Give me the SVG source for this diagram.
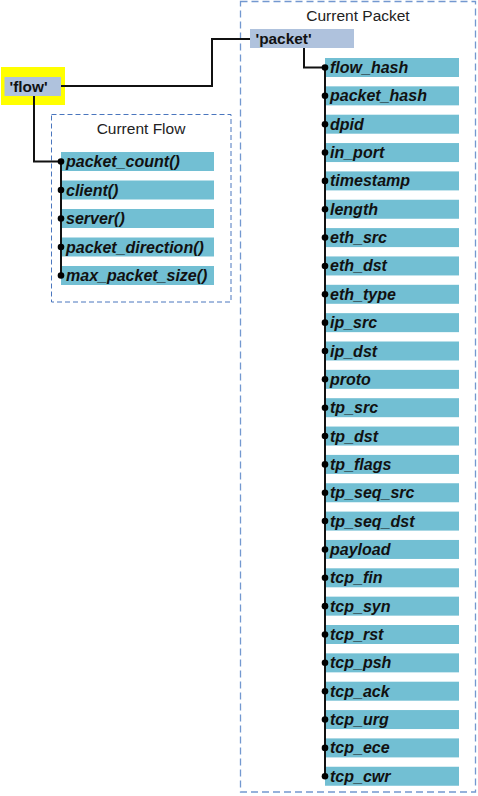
<svg xmlns="http://www.w3.org/2000/svg" width="478" height="796" viewBox="0 0 478 796">
<style>
.item{fill:#72BFD3}
.it{font-family:"Liberation Sans",Arial,sans-serif;font-size:16px;font-weight:bold;font-style:italic;fill:#111}
.key{font-family:"Liberation Sans",Arial,sans-serif;font-size:15.4px;font-weight:bold;fill:#111}
.title{font-family:"Liberation Sans",Arial,sans-serif;font-size:15.5px;fill:#222;text-anchor:middle}
.conn{fill:none;stroke:#111;stroke-width:2}
.dot{fill:#000}
</style>
<rect x="0" y="0" width="478" height="796" fill="#fff"/>
<g id="current-packet">
<rect x="240.5" y="1.5" width="235" height="790.5" fill="none" stroke="#7398D0" stroke-width="1.3" stroke-dasharray="7 4"/>
<text class="title" x="358" y="20.5">Current Packet</text>
</g>
<g id="current-flow">
<rect x="51.5" y="114.5" width="179.5" height="187.5" fill="none" stroke="#4A76BE" stroke-width="1" stroke-dasharray="5 3"/>
<text class="title" x="141" y="133.5">Current Flow</text>
</g>
<g id="flow">
<rect x="1" y="67" width="64" height="38" fill="#FFFF00"/>
<rect x="4.5" y="77" width="56.5" height="19" fill="#AFC2DD"/>
<text class="key" x="9.5" y="91.5">'flow'</text>
</g>
<g id="packet">
<rect x="250" y="29" width="104" height="19" fill="#AFC2DD"/>
<text class="key" x="255.5" y="44.3">'packet'</text>
</g>
<g id="flow-items">
<g id="packet_count"><rect class="item" x="61" y="152" width="153" height="19"/><text class="it" x="66" y="167">packet_count()</text></g>
<g id="client"><rect class="item" x="61" y="180.5" width="153" height="19"/><text class="it" x="66" y="195.5">client()</text></g>
<g id="server"><rect class="item" x="61" y="209" width="153" height="19"/><text class="it" x="66" y="224">server()</text></g>
<g id="packet_direction"><rect class="item" x="61" y="237.5" width="153" height="19"/><text class="it" x="66" y="252.5">packet_direction()</text></g>
<g id="max_packet_size"><rect class="item" x="61" y="266" width="153" height="19"/><text class="it" x="66" y="281">max_packet_size()</text></g>
</g>
<g id="packet-items">
<g id="flow_hash"><rect class="item" x="325" y="58" width="134" height="19"/><text class="it" x="330" y="73">flow_hash</text></g>
<g id="packet_hash"><rect class="item" x="325" y="86.35" width="134" height="19"/><text class="it" x="330" y="101.35">packet_hash</text></g>
<g id="dpid"><rect class="item" x="325" y="114.7" width="134" height="19"/><text class="it" x="330" y="129.7">dpid</text></g>
<g id="in_port"><rect class="item" x="325" y="143.05" width="134" height="19"/><text class="it" x="330" y="158.05">in_port</text></g>
<g id="timestamp"><rect class="item" x="325" y="171.4" width="134" height="19"/><text class="it" x="330" y="186.4">timestamp</text></g>
<g id="length"><rect class="item" x="325" y="199.75" width="134" height="19"/><text class="it" x="330" y="214.75">length</text></g>
<g id="eth_src"><rect class="item" x="325" y="228.1" width="134" height="19"/><text class="it" x="330" y="243.1">eth_src</text></g>
<g id="eth_dst"><rect class="item" x="325" y="256.45" width="134" height="19"/><text class="it" x="330" y="271.45">eth_dst</text></g>
<g id="eth_type"><rect class="item" x="325" y="284.8" width="134" height="19"/><text class="it" x="330" y="299.8">eth_type</text></g>
<g id="ip_src"><rect class="item" x="325" y="313.15" width="134" height="19"/><text class="it" x="330" y="328.15">ip_src</text></g>
<g id="ip_dst"><rect class="item" x="325" y="341.5" width="134" height="19"/><text class="it" x="330" y="356.5">ip_dst</text></g>
<g id="proto"><rect class="item" x="325" y="369.85" width="134" height="19"/><text class="it" x="330" y="384.85">proto</text></g>
<g id="tp_src"><rect class="item" x="325" y="398.2" width="134" height="19"/><text class="it" x="330" y="413.2">tp_src</text></g>
<g id="tp_dst"><rect class="item" x="325" y="426.55" width="134" height="19"/><text class="it" x="330" y="441.55">tp_dst</text></g>
<g id="tp_flags"><rect class="item" x="325" y="454.9" width="134" height="19"/><text class="it" x="330" y="469.9">tp_flags</text></g>
<g id="tp_seq_src"><rect class="item" x="325" y="483.25" width="134" height="19"/><text class="it" x="330" y="498.25">tp_seq_src</text></g>
<g id="tp_seq_dst"><rect class="item" x="325" y="511.6" width="134" height="19"/><text class="it" x="330" y="526.6">tp_seq_dst</text></g>
<g id="payload"><rect class="item" x="325" y="539.95" width="134" height="19"/><text class="it" x="330" y="554.95">payload</text></g>
<g id="tcp_fin"><rect class="item" x="325" y="568.3" width="134" height="19"/><text class="it" x="330" y="583.3">tcp_fin</text></g>
<g id="tcp_syn"><rect class="item" x="325" y="596.65" width="134" height="19"/><text class="it" x="330" y="611.65">tcp_syn</text></g>
<g id="tcp_rst"><rect class="item" x="325" y="625" width="134" height="19"/><text class="it" x="330" y="640">tcp_rst</text></g>
<g id="tcp_psh"><rect class="item" x="325" y="653.35" width="134" height="19"/><text class="it" x="330" y="668.35">tcp_psh</text></g>
<g id="tcp_ack"><rect class="item" x="325" y="681.7" width="134" height="19"/><text class="it" x="330" y="696.7">tcp_ack</text></g>
<g id="tcp_urg"><rect class="item" x="325" y="710.05" width="134" height="19"/><text class="it" x="330" y="725.05">tcp_urg</text></g>
<g id="tcp_ece"><rect class="item" x="325" y="738.4" width="134" height="19"/><text class="it" x="330" y="753.4">tcp_ece</text></g>
<g id="tcp_cwr"><rect class="item" x="325" y="766.75" width="134" height="19"/><text class="it" x="330" y="781.75">tcp_cwr</text></g>
</g>
<g id="connectors">
<polyline class="conn" stroke-width="1.6" points="61,86 212,86 212,39 250,39"/>
<polyline class="conn" stroke-width="1.6" points="34,96 34,161.5 61,161.5"/>
<line class="conn" x1="61" y1="161.5" x2="61" y2="275.5"/>
<polyline class="conn" stroke-width="1.6" points="304,48 304,67.5 325,67.5"/>
<line class="conn" x1="325" y1="67.5" x2="325" y2="776.25"/>
<g class="dot">
<circle cx="61" cy="161.5" r="3.3"/><circle cx="61" cy="190" r="3.3"/><circle cx="61" cy="218.5" r="3.3"/><circle cx="61" cy="247" r="3.3"/><circle cx="61" cy="275.5" r="3.3"/>
<circle cx="325" cy="67.5" r="3.3"/><circle cx="325" cy="95.85" r="3.3"/><circle cx="325" cy="124.2" r="3.3"/><circle cx="325" cy="152.55" r="3.3"/><circle cx="325" cy="180.9" r="3.3"/><circle cx="325" cy="209.25" r="3.3"/><circle cx="325" cy="237.6" r="3.3"/><circle cx="325" cy="265.95" r="3.3"/><circle cx="325" cy="294.3" r="3.3"/><circle cx="325" cy="322.65" r="3.3"/><circle cx="325" cy="351" r="3.3"/><circle cx="325" cy="379.35" r="3.3"/><circle cx="325" cy="407.7" r="3.3"/><circle cx="325" cy="436.05" r="3.3"/><circle cx="325" cy="464.4" r="3.3"/><circle cx="325" cy="492.75" r="3.3"/><circle cx="325" cy="521.1" r="3.3"/><circle cx="325" cy="549.45" r="3.3"/><circle cx="325" cy="577.8" r="3.3"/><circle cx="325" cy="606.15" r="3.3"/><circle cx="325" cy="634.5" r="3.3"/><circle cx="325" cy="662.85" r="3.3"/><circle cx="325" cy="691.2" r="3.3"/><circle cx="325" cy="719.55" r="3.3"/><circle cx="325" cy="747.9" r="3.3"/><circle cx="325" cy="776.25" r="3.3"/>
</g>
</g>
</svg>
